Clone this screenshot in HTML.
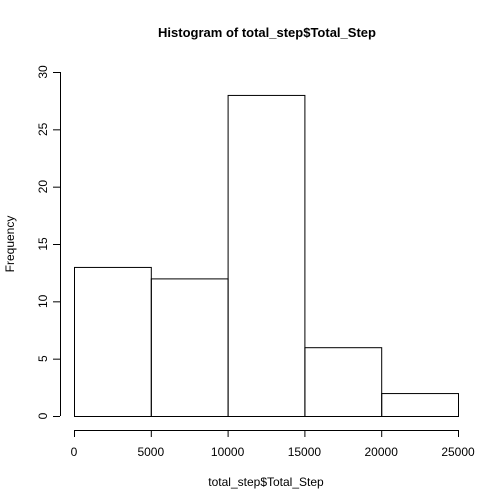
<!DOCTYPE html>
<html><head><meta charset="utf-8"><style>body{margin:0;background:#fff}svg{display:block}text{font-family:"Liberation Sans",Arial,sans-serif;fill:#000}</style></head>
<body>
<svg id="chart" width="504" height="504">
<text x="267" y="37" text-anchor="middle" font-size="13" font-weight="bold">Histogram of total_step$Total_Step</text>
<text x="266" y="486" text-anchor="middle" font-size="12">total_step$Total_Step</text>
<text transform="translate(14,244) rotate(-90)" text-anchor="middle" font-size="12">Frequency</text>
<g id="bars"></g><g id="xaxis"></g><g id="yaxis"></g>
</svg>
<script>
const binEdges=[0,5000,10000,15000,20000,25000];
const counts=[13,12,28,6,2];
const xTicks=[0,5000,10000,15000,20000,25000];
const yTicks=[0,5,10,15,20,25,30];
const NS="http://www.w3.org/2000/svg";
function X(v){return 74+(v-0)*(458-74)/25000;}
function Y(v){return 416-v*(416-72)/30;}
function mk(t,a,p){const e=document.createElementNS(NS,t);for(const k in a)e.setAttribute(k,a[k]);p.appendChild(e);return e;}
const bars=document.getElementById('bars');
counts.forEach((c,i)=>{const r=mk('rect',{x:X(binEdges[i])+0.5,y:Y(c)+0.5,width:X(binEdges[i+1])-X(binEdges[i]),height:Y(0)-Y(c),fill:'none',stroke:'#000','stroke-width':1},bars);

});
const xa=document.getElementById('xaxis');
const xl=mk('line',{x1:X(0),x2:X(25000),y1:430.5,y2:430.5,stroke:'#000'},xa);


xTicks.forEach(v=>{mk('line',{x1:X(v)+0.5,x2:X(v)+0.5,y1:430,y2:437,stroke:'#000'},xa);
const t=mk('text',{x:X(v),y:456,'text-anchor':'middle','font-size':12},xa);t.textContent=v;

});
const ya=document.getElementById('yaxis');
const yl=mk('line',{x1:60.5,x2:60.5,y1:Y(0),y2:Y(30),stroke:'#000'},ya);


yTicks.forEach(v=>{mk('line',{x1:53,x2:60,y1:Y(v)+0.5,y2:Y(v)+0.5,stroke:'#000'},ya);
const t=mk('text',{transform:`translate(47,${Y(v)}) rotate(-90)`,'text-anchor':'middle','font-size':12},ya);t.textContent=v;

});
</script>
</body></html>
